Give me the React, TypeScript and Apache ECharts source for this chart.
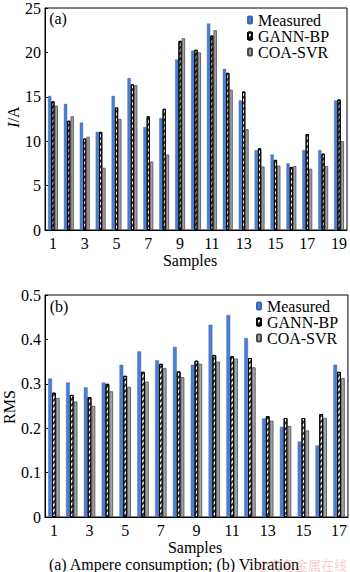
import React, { useEffect, useRef } from "react";
import * as echarts from "echarts";

const samplesA = Array.from({ length: 19 }, (_, i) => String(i + 1));
const samplesB = Array.from({ length: 17 }, (_, i) => String(i + 1));

const measuredA = [15.1, 14.2, 12.1, 11.05, 15.1, 17.1, 11.6, 12.6, 19.2, 20.2, 23.25, 18.15, 14.6, 9.0, 8.5, 7.5, 9.0, 9.0, 14.6];
const gannA = [14.5, 12.3, 10.3, 11.05, 13.8, 16.4, 12.8, 13.65, 21.3, 20.3, 21.9, 17.7, 15.6, 9.2, 7.9, 7.1, 10.8, 8.6, 14.7];
const coaA = [14.0, 12.8, 10.5, 7.0, 12.5, 16.3, 7.7, 8.5, 21.6, 20.0, 22.5, 15.8, 11.35, 7.15, 7.25, 7.2, 6.9, 7.2, 10.0];

const measuredB = [0.312, 0.303, 0.292, 0.303, 0.343, 0.373, 0.353, 0.383, 0.343, 0.433, 0.455, 0.403, 0.222, 0.203, 0.17, 0.161, 0.343];
const gannB = [0.28, 0.275, 0.27, 0.3, 0.318, 0.327, 0.345, 0.328, 0.352, 0.365, 0.362, 0.358, 0.227, 0.223, 0.223, 0.232, 0.327];
const coaB = [0.268, 0.26, 0.25, 0.283, 0.293, 0.305, 0.335, 0.315, 0.345, 0.35, 0.357, 0.337, 0.217, 0.205, 0.195, 0.223, 0.313];

const seriesNames = ["Measured", "GANN-BP", "COA-SVR"];
const FONT = "'Liberation Serif', 'Times New Roman', serif";

export default function App() {
  const ref = useRef<HTMLDivElement>(null);
  useEffect(() => {
    if (!ref.current) return;
    const chart = echarts.init(ref.current, undefined, { renderer: "svg" });

    const blueStyle = { color: "#4a7fd0", borderColor: "#3a66b5", borderWidth: 0.4 };
    const gannStyle = {
      color: "#ffffff",
      borderColor: "#000000",
      borderWidth: 1,
      decal: {
        symbol: "rect",
        symbolSize: 1,
        color: "rgba(0,0,0,0.8)",
        dashArrayX: [1, 0],
        dashArrayY: [2, 2],
        rotation: -Math.PI / 4,
      },
    };
    const grayStyle = { color: "#a2a2a2", borderColor: "#4a4a4a", borderWidth: 0.8 };
    const styles = [blueStyle, gannStyle, grayStyle];

    const mkSeries = (name: string, data: number[], idx: number, s: number, bw: number) => ({
      name,
      type: "bar",
      xAxisIndex: idx,
      yAxisIndex: idx,
      data,
      barWidth: bw,
      barGap: "0%",
      itemStyle: styles[s],
      emphasis: { disabled: true },
    });

    const xAxisCommon = {
      type: "category",
      axisLine: { lineStyle: { color: "#000", width: 1 } },
      axisTick: { show: false },
      axisLabel: { interval: 1, color: "#000", fontFamily: FONT, fontSize: 16, margin: 5 },
      splitLine: { show: false },
    };
    const yAxisCommon = {
      type: "value",
      min: 0,
      axisLine: { show: true, lineStyle: { color: "#000", width: 1 } },
      axisTick: { show: true, inside: true, length: 3, lineStyle: { color: "#000" } },
      axisLabel: { color: "#000", fontFamily: FONT, fontSize: 16, margin: 4 },
      splitLine: { show: false },
    };
    const legendCommon = {
      orient: "vertical",
      itemWidth: 4,
      itemHeight: 7,
      itemGap: 0,
      padding: 0,
      selectedMode: false,
      textStyle: { fontFamily: FONT, fontSize: 16, color: "#000", lineHeight: 16, padding: [0, 0, 0, 1] },
      data: seriesNames,
    };

    chart.setOption({
      animation: false,
      textStyle: { fontFamily: FONT },
      grid: [
        { left: 45, top: 6, width: 304, height: 224, show: true, borderColor: "#000", borderWidth: 1 },
        { left: 45, top: 295, width: 304, height: 222, show: true, borderColor: "#000", borderWidth: 1 },
      ],
      legend: [
        { ...legendCommon, left: 247, top: 12 },
        { ...legendCommon, left: 256, top: 298 },
      ],
      xAxis: [
        { ...xAxisCommon, gridIndex: 0, data: samplesA },
        { ...xAxisCommon, gridIndex: 1, data: samplesB },
      ],
      yAxis: [
        { ...yAxisCommon, gridIndex: 0, max: 25, interval: 5 },
        { ...yAxisCommon, gridIndex: 1, max: 0.5, interval: 0.1 },
      ],
      series: [
        mkSeries(seriesNames[0], measuredA, 0, 0, 3.3),
        mkSeries(seriesNames[1], gannA, 0, 1, 3.3),
        mkSeries(seriesNames[2], coaA, 0, 2, 3.3),
        mkSeries(seriesNames[0], measuredB, 1, 0, 3.8),
        mkSeries(seriesNames[1], gannB, 1, 1, 3.8),
        mkSeries(seriesNames[2], coaB, 1, 2, 3.8),
      ],
      graphic: [
        { type: "text", x: 58, y: 18, style: { text: "(a)", font: `16px ${FONT}`, fill: "#000", align: "center", verticalAlign: "middle" } },
        {
          type: "text",
          x: 13,
          y: 117,
          rotation: Math.PI / 2,
          style: {
            text: "{i|I}/A",
            font: `16px ${FONT}`,
            fill: "#000",
            align: "center",
            verticalAlign: "middle",
            rich: { i: { fontStyle: "italic", fontFamily: FONT, fontSize: 16, fill: "#000" } },
          },
        },
        { type: "text", x: 190, y: 260, style: { text: "Samples", font: `16px ${FONT}`, fill: "#000", align: "center", verticalAlign: "middle" } },
        { type: "text", x: 59, y: 306, style: { text: "(b)", font: `16px ${FONT}`, fill: "#000", align: "center", verticalAlign: "middle" } },
        { type: "text", x: 9, y: 407, rotation: Math.PI / 2, style: { text: "RMS", font: `16px ${FONT}`, fill: "#000", align: "center", verticalAlign: "middle" } },
        { type: "text", x: 195, y: 547, style: { text: "Samples", font: `16px ${FONT}`, fill: "#000", align: "center", verticalAlign: "middle" } },
        { type: "text", x: 174, y: 564, style: { text: "(a) Ampere consumption; (b) Vibration", font: `16px ${FONT}`, fill: "#000", align: "center", verticalAlign: "middle" } },
        { type: "text", x: 347, y: 564, style: { text: "@有色金属在线", font: `13px 'Noto Sans CJK SC'`, fill: "rgba(225,110,110,0.35)", align: "right", verticalAlign: "middle" } },
      ],
    });
    return () => chart.dispose();
  }, []);
  return <div ref={ref} style={{ position: "absolute", left: 0, top: 0, width: 350, height: 572, background: "#fff" }} />;
}
